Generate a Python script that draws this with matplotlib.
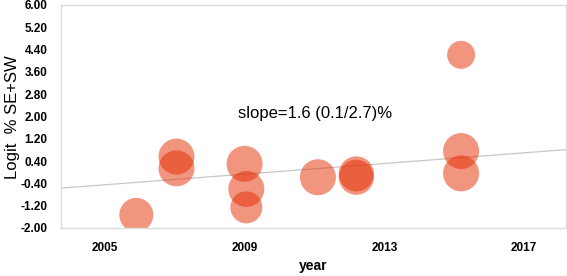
import numpy as np
import matplotlib.pyplot as plt

plt.rcParams['font.family'] = ['Liberation Sans', 'DejaVu Sans']

# bubble data
year = [2005.9, 2007.05, 2007.05, 2009.0, 2009.05, 2009.05, 2011.1, 2012.2, 2012.2, 2015.2, 2015.2, 2015.2]
logit = [-1.53, 0.56, 0.14, 0.30, -0.60, -1.26, -0.18, -0.06, -0.18, 4.21, 0.76, -0.04]
bsize = [600, 672, 672, 672, 672, 531, 672, 640, 640, 407, 672, 672]

# trend line end points
line_x = [2003.75, 2018.2]
line_y = [-0.57, 0.81]

yticks = [-2.0, -1.2, -0.4, 0.4, 1.2, 2.0, 2.8, 3.6, 4.4, 5.2, 6.0]
xticks = [2005, 2009, 2013, 2017]

fig, ax = plt.subplots(figsize=(5.67, 2.76), dpi=100)
fig.subplots_adjust(left=0.108, right=0.998, top=0.982, bottom=0.174)

ax.plot(line_x, line_y, color='#c8c8c8', lw=0.9, zorder=1)
ax.scatter(year, logit, s=bsize, color='#e52d00', alpha=0.5, edgecolors='none', zorder=2)

ax.text(2011.03, 2.1, 'slope=1.6 (0.1/2.7)%', fontsize=12, ha='center', va='center')

ax.set_xlim(2003.75, 2018.2)
ax.set_ylim(-2.0, 6.0)
ax.set_yticks(yticks)
ax.set_yticklabels(['%.2f' % v for v in yticks], fontsize=8.5, fontweight='bold')
ax.set_xticks(xticks)
ax.set_xticklabels([str(v) for v in xticks], fontsize=8.5, fontweight='bold')
ax.tick_params(length=0, pad=10)
ax.tick_params(axis='y', pad=10)

ax.set_xlabel('year', fontsize=10, fontweight='bold', labelpad=4)
fig.text(0.022, 0.575, 'Logit  % SE+SW', fontsize=12, rotation=90, ha='center', va='center')

for s in ax.spines.values():
    s.set_color('#dcdcdc')
    s.set_linewidth(1)

plt.savefig('out.png', dpi=100)
